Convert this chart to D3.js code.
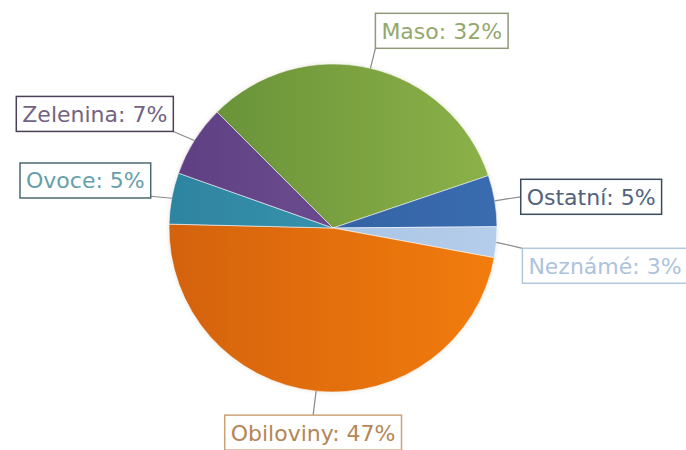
<!DOCTYPE html>
<html>
<head>
<meta charset="utf-8">
<script src="https://cdn.jsdelivr.net/npm/d3@7"></script>
<style>
  html, body { margin: 0; padding: 0; background: #ffffff; }
  svg { display: block; }
</style>
</head>
<body>
<svg id="chart" width="686" height="450"></svg>
<script>
// Food categories in drawing order (clockwise from the upper left)
const categories = ["Maso", "Ostatní", "Neznámé", "Obiloviny", "Ovoce", "Zelenina"];
const shares = [32, 5, 3, 47, 5, 7];

// Slice fills: dark edge on the left, light edge on the right
const fillDark  = ["#638e36", "#2c5a98", "#a0bde0", "#d4620c", "#2e84a0", "#5e4082"];
const fillLight = ["#8db249", "#3a6cb0", "#b4cdea", "#f27c0e", "#40a0b8", "#78569c"];
// Label box styling
const labelText   = ["#93a86c", "#52627e", "#adc3dc", "#b48656", "#66a0ab", "#726382"];
const labelBorder = ["#8e9a7a", "#3e4a5e", "#b4c6da", "#c9a278", "#4d6a70", "#4a4058"];
// Leader line end, relative to the slice's outer midpoint, and where it meets the box
const leaderOffset = [[5, -20], [26, -4], [26, 6], [-3, 24], [-21, -2], [-21, -9]];
const boxAnchor = [[0, 1], [0, 0.5], [0, 0], [0.5, 0], [1, 0.95], [1, 1]];

const svg = d3.select("#chart");
const cx = 333, cy = 228, radius = 164;

const data = categories.map((c, i) => ({ name: c, value: shares[i], i }));

const pie = d3.pie()
  .value(d => d.value)
  .sort(null)
  .startAngle(-Math.PI / 4)
  .endAngle(2 * Math.PI - Math.PI / 4);

const arcs = pie(data);
const arc = d3.arc().innerRadius(0).outerRadius(radius);

const defs = svg.append("defs");
data.forEach((d, i) => {
  const g = defs.append("linearGradient")
    .attr("id", "grad" + i)
    .attr("gradientUnits", "userSpaceOnUse")
    .attr("x1", -radius).attr("y1", 0)
    .attr("x2", radius).attr("y2", 0);
  g.append("stop").attr("offset", "0%").attr("stop-color", fillDark[i]);
  g.append("stop").attr("offset", "100%").attr("stop-color", fillLight[i]);
});

// soft halo around the pie
const halo = defs.append("filter").attr("id", "halo")
  .attr("x", "-10%").attr("y", "-10%").attr("width", "120%").attr("height", "120%");
halo.append("feGaussianBlur").attr("in", "SourceAlpha").attr("stdDeviation", 2).attr("result", "b");
halo.append("feFlood").attr("flood-color", "#c8b89a").attr("flood-opacity", 0.35);
halo.append("feComposite").attr("in2", "b").attr("operator", "in").attr("result", "s");
const hm = halo.append("feMerge");
hm.append("feMergeNode").attr("in", "s");
hm.append("feMergeNode").attr("in", "SourceGraphic");

const pieG = svg.append("g")
  .attr("transform", `translate(${cx},${cy})`)
  .attr("filter", "url(#halo)");

pieG.selectAll("path.slice")
  .data(arcs)
  .join("path")
  .attr("class", "slice")
  .attr("d", arc)
  .attr("fill", d => `url(#grad${d.data.i})`)
  .attr("stroke", "rgba(255,255,255,0.55)")
  .attr("stroke-width", 1);

// Labels with leader lines
const labelG = svg.append("g");
const fontSize = 22;

arcs.forEach(a => {
  const i = a.data.i;
  const mid = (a.startAngle + a.endAngle) / 2;
  const px = cx + radius * Math.sin(mid);
  const py = cy - radius * Math.cos(mid);
  const ex = px + leaderOffset[i][0];
  const ey = py + leaderOffset[i][1];

  labelG.append("line")
    .attr("x1", px).attr("y1", py)
    .attr("x2", ex).attr("y2", ey)
    .attr("stroke", "#8a8a8a")
    .attr("stroke-width", 1.2);

  const g = labelG.append("g");
  const txt = g.append("text")
    .attr("font-family", "'DejaVu Sans', Verdana, sans-serif")
    .attr("font-size", fontSize)
    .attr("fill", labelText[i])
    .text(`${a.data.name}: ${a.data.value}%`);
  const tw = txt.node().getComputedTextLength();
  const padX = 6, h = 35;
  const w = tw + padX * 2;
  const bx = ex - boxAnchor[i][0] * w;
  const by = ey - boxAnchor[i][1] * h;

  g.insert("rect", "text")
    .attr("x", bx).attr("y", by)
    .attr("width", w).attr("height", h)
    .attr("fill", "#ffffff")
    .attr("stroke", labelBorder[i])
    .attr("stroke-width", 1.5);
  txt.attr("x", bx + padX).attr("y", by + h / 2 + fontSize * 0.36);
});
</script>
</body>
</html>
